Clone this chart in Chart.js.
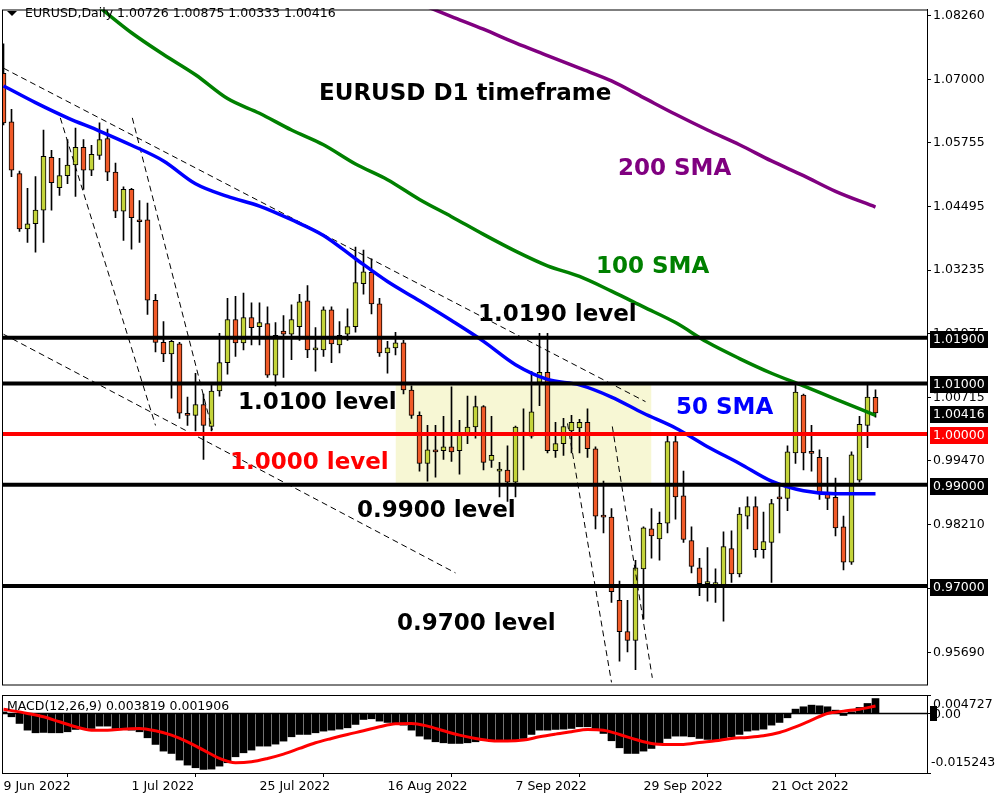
<!DOCTYPE html>
<html><head><meta charset="utf-8">
<script src="https://cdn.jsdelivr.net/npm/chart.js@4.4.1/dist/chart.umd.min.js"></script>
<style>
html,body{margin:0;padding:0;background:#fff;width:1000px;height:800px;overflow:hidden;}
#main{position:absolute;left:0;top:0;width:1000px;height:694px;}
#macd{position:absolute;left:0;top:694px;width:1000px;height:106px;}
</style></head><body>
<canvas id="main" width="1000" height="694"></canvas>
<canvas id="macd" width="1000" height="106"></canvas>
<script>
// ---------------- DATA ----------------
const symbolTitle = 'EURUSD,Daily';
const ohlcTitle = '1.00726 1.00875 1.00333 1.00416';
const macdTitle = 'MACD(12,26,9) 0.003819 0.001906';

const dateTickIdx = [0, 16, 32, 48, 64, 80, 96];
const dateTickLabels = ['9 Jun 2022', '1 Jul 2022', '25 Jul 2022', '16 Aug 2022', '7 Sep 2022', '29 Sep 2022', '21 Oct 2022'];
const priceTicks = [1.0826, 1.07, 1.05755, 1.04495, 1.03235, 1.01975, 1.00715, 0.9947, 0.9821, 0.9695, 0.9569];

const openP = [1.0712,1.0616,1.0514,1.0405,1.0415,1.0442,1.0546,1.0486,1.0510,1.0531,
1.0566,1.0521,1.0550,1.0583,1.0517,1.0440,1.0483,1.0423,1.0423,1.0264,
1.0181,1.0158,1.0178,1.0041,1.0037,1.0058,1.0015,1.0085,1.0141,1.0226,
1.0180,1.0230,1.0212,1.0218,1.0116,1.0203,1.0197,1.0212,1.0263,1.0166,
1.0166,1.0245,1.0176,1.0197,1.0212,1.0297,1.0319,1.0257,1.0160,1.0170,
1.0180,1.0087,1.0037,0.9942,0.9967,0.9967,0.9975,0.9967,0.9998,1.0014,
1.0054,0.9948,0.9927,0.9929,0.9905,1.0000,0.9996,1.0102,1.0122,0.9967,
0.9981,1.0006,1.0012,1.0023,0.9971,0.9838,0.9836,0.9672,0.9610,0.9593,
0.9734,0.9813,0.9793,0.9824,0.9985,0.9878,0.9790,0.9736,0.9705,0.9703,
0.9703,0.9774,0.9724,0.9838,0.9857,0.9772,0.9786,0.9873,0.9873,0.9963,
1.0077,0.9963,0.9954,0.9882,0.9875,0.9817,0.9747,0.9909,1.0017,1.00726];
const highP = [1.0770,1.0641,1.0519,1.0485,1.0508,1.0600,1.0560,1.0544,1.0581,1.0604,
1.0581,1.0570,1.0614,1.0602,1.0535,1.0488,1.0485,1.0461,1.0456,1.0276,
1.0222,1.0185,1.0181,1.0073,1.0120,1.0079,1.0097,1.0199,1.0268,1.0272,
1.0278,1.0259,1.0259,1.0251,1.0220,1.0234,1.0255,1.0276,1.0293,1.0210,
1.0251,1.0251,1.0222,1.0247,1.0369,1.0363,1.0346,1.0268,1.0183,1.0201,
1.0185,1.0095,1.0044,1.0017,1.0017,1.0035,1.0093,1.0027,1.0075,1.0075,
1.0056,1.0035,0.9944,0.9977,1.0016,1.0050,1.0124,1.0199,1.0199,1.0023,
1.0031,1.0037,1.0029,1.0050,0.9975,0.9907,0.9853,0.9710,0.9672,0.9751,
0.9817,0.9853,0.9846,0.9998,0.9998,0.9927,0.9817,0.9755,0.9776,0.9734,
0.9807,0.9809,0.9855,0.9876,0.9876,0.9846,0.9871,0.9903,0.9977,1.0098,
1.0079,1.0017,0.9969,0.9954,0.9913,0.9838,0.9965,1.0035,1.0098,1.00875];
const lowP = [1.0610,1.0508,1.0400,1.0378,1.0359,1.0378,1.0442,1.0471,1.0494,1.0469,
1.0483,1.0510,1.0542,1.0500,1.0427,1.0382,1.0365,1.0378,1.0236,1.0162,
1.0143,1.0071,1.0031,1.0017,1.0006,0.9950,1.0006,1.0075,1.0118,1.0153,
1.0166,1.0176,1.0176,1.0112,1.0095,1.0112,1.0147,1.0185,1.0151,1.0124,
1.0153,1.0141,1.0160,1.0185,1.0201,1.0276,1.0237,1.0153,1.0120,1.0156,
1.0079,1.0031,0.9927,0.9907,0.9915,0.9950,0.9946,0.9921,0.9981,0.9992,
0.9929,0.9934,0.9876,0.9867,0.9876,0.9929,0.9992,1.0056,0.9963,0.9954,
0.9958,0.9963,0.9963,0.9954,0.9813,0.9805,0.9668,0.9552,0.9570,0.9535,
0.9635,0.9755,0.9751,0.9805,0.9832,0.9786,0.9726,0.9681,0.9670,0.9668,
0.9631,0.9707,0.9718,0.9813,0.9757,0.9755,0.9707,0.9805,0.9849,0.9942,
0.9929,0.9927,0.9871,0.9851,0.9799,0.9732,0.9743,0.9905,0.9973,1.00333];
const closeP = [1.0614,1.0521,1.0405,1.0415,1.0442,1.0548,1.0496,1.0510,1.0531,1.0566,
1.0521,1.0552,1.0581,1.0517,1.0440,1.0483,1.0427,1.0419,1.0264,1.0181,
1.0158,1.0183,1.0041,1.0037,1.0058,1.0017,1.0085,1.0141,1.0226,1.0180,
1.0230,1.0210,1.0220,1.0116,1.0195,1.0197,1.0226,1.0261,1.0166,1.0168,
1.0245,1.0178,1.0195,1.0212,1.0299,1.0320,1.0257,1.0160,1.0170,1.0180,
1.0087,1.0037,0.9942,0.9969,0.9965,0.9975,0.9965,0.9998,1.0014,1.0054,
0.9944,0.9958,0.9929,0.9905,1.0014,1.0004,1.0044,1.0122,0.9967,0.9981,
1.0015,1.0023,1.0023,0.9971,0.9838,0.9836,0.9689,0.9610,0.9593,0.9736,
0.9815,0.9799,0.9824,0.9985,0.9876,0.9792,0.9739,0.9705,0.9708,0.9704,
0.9778,0.9724,0.9842,0.9857,0.9772,0.9788,0.9863,0.9872,0.9965,1.0083,
0.9963,0.9962,0.9882,0.9873,0.9815,0.9747,0.9959,1.0019,1.0073,1.00416];

// moving averages read at bar indices: [barIndex, price]
const sma50 = [[0,1.0687],[4,1.0654],[8,1.0624],[12,1.0598],[16,1.0570],[20,1.0539],[24,1.0494],[28,1.0469],[32,1.0450],[36,1.0423],[40,1.0392],[44,1.0346],[48,1.0301],[52,1.0263],[56,1.0224],[60,1.0183],[64,1.0137],[68,1.0108],[72,1.0097],[76,1.0073],[80,1.0041],[84,1.0012],[88,0.9975],[92,0.9942],[96,0.9907],[100,0.9888],[104,0.9882],[109,0.9882]];
const sma100 = [[6,1.0915],[12,1.0842],[16,1.0792],[20,1.0749],[24,1.0709],[28,1.0662],[32,1.0633],[36,1.0600],[40,1.0571],[44,1.0533],[48,1.0502],[52,1.0463],[56,1.0429],[60,1.0394],[64,1.0361],[68,1.0332],[72,1.0311],[76,1.0282],[80,1.0251],[84,1.0220],[88,1.0181],[92,1.0149],[96,1.0120],[100,1.0095],[104,1.0069],[109,1.0037]];
const sma200 = [[48,1.0875],[56,1.0824],[60,1.0799],[64,1.0772],[68,1.0747],[72,1.0722],[76,1.0697],[80,1.0664],[84,1.0631],[88,1.0600],[92,1.0571],[96,1.0539],[100,1.0510],[104,1.0479],[109,1.0448]];

// dashed trend lines: [[barIndex, price], [barIndex, price]]
const trendLines = [
  [[0,1.0722],[80.25,1.0064]],
  [[0,1.0197],[56.5,0.9726]],
  [[7.1,1.0624],[19,1.0017]],
  [[16.1,1.0624],[26.1,1.0008]],
  [[70.5,1.0021],[76,0.9510]],
  [[76.1,1.0015],[81.1,0.9519]]
];
const levelPrices = [1.019, 1.01, 1.0, 0.99, 0.97];
const zoneBars = [49, 81];
const zonePrices = [0.99, 1.01];

const macdHist = [0.0004,-0.00085,-0.00256,-0.00427,-0.00495,-0.00486,-0.00495,-0.00495,-0.00469,-0.00409,
-0.00367,-0.00384,-0.00324,-0.00324,-0.00384,-0.00401,-0.00427,-0.00469,-0.00623,-0.00793,
-0.00964,-0.01024,-0.01194,-0.01322,-0.01390,-0.01433,-0.01425,-0.01348,-0.01262,-0.01109,
-0.01007,-0.00938,-0.00836,-0.00836,-0.00785,-0.00708,-0.00597,-0.00537,-0.00537,-0.00495,
-0.00452,-0.00427,-0.00401,-0.00367,-0.00281,-0.00154,-0.00136,-0.00196,-0.00230,-0.00256,
-0.00299,-0.00427,-0.00580,-0.00657,-0.00725,-0.00751,-0.00768,-0.00768,-0.00751,-0.00725,
-0.00682,-0.00682,-0.00682,-0.00682,-0.00682,-0.00640,-0.00537,-0.00427,-0.00427,-0.00409,
-0.00401,-0.00384,-0.00341,-0.00341,-0.00409,-0.00512,-0.00699,-0.00879,-0.01024,-0.01024,
-0.00964,-0.00896,-0.00768,-0.00640,-0.00580,-0.00580,-0.00597,-0.00640,-0.00665,-0.00682,
-0.00665,-0.00597,-0.00537,-0.00452,-0.00427,-0.00401,-0.00299,-0.00230,-0.00111,0.00111,
0.00171,0.00213,0.00196,0.00171,0.00085,-0.00051,0.00043,0.00154,0.00256,0.003819];
const macdSignal = [[0,0.00108],[3,0],[5,-0.00085],[7,-0.00213],[9,-0.00341],[11,-0.00427],[13,-0.00427],[15,-0.00401],[17,-0.00384],[19,-0.00444],[21,-0.00555],[23,-0.00725],[25,-0.00938],[27,-0.01152],[29,-0.01262],[31,-0.01237],[33,-0.01152],[35,-0.01041],[37,-0.00896],[39,-0.00751],[41,-0.00640],[43,-0.00537],[45,-0.00444],[47,-0.00341],[49,-0.00264],[51,-0.00256],[53,-0.00324],[55,-0.00444],[57,-0.00555],[59,-0.00640],[61,-0.00699],[63,-0.00708],[65,-0.00682],[67,-0.00597],[69,-0.00529],[71,-0.00469],[73,-0.00409],[75,-0.00427],[77,-0.00537],[79,-0.00665],[81,-0.00768],[83,-0.00793],[85,-0.00793],[87,-0.00742],[89,-0.00699],[91,-0.00640],[93,-0.00614],[95,-0.00572],[97,-0.00486],[99,-0.00341],[101,-0.00171],[103,0],[105,0.0006],[107,0.0011],[109,0.001906]];
const macdRange = [-0.015243, 0.004727];

// ---------------- STYLE / LAYOUT ----------------
const FONT = '"DejaVu Sans", sans-serif';
const BULL = '#c4d43a', BEAR = '#f05a28';
const XMIN = -0.1875, XMAX = XMIN + 925 / 8;
const YMIN = 0.950579, YMAX = 1.083784;

const idx = openP.map((_, i) => i);
const pts = arr => arr.map(([x, y]) => ({x, y}));

const frame = {
  id: 'frame',
  afterDraw(chart) {
    const {ctx, chartArea: a} = chart;
    ctx.save();
    ctx.strokeStyle = '#000'; ctx.lineWidth = 1;
    ctx.strokeRect(a.left + 0.5, a.top + 0.5, a.right - a.left, a.bottom - a.top);
    ctx.restore();
  }
};

const mainDecor = {
  id: 'mainDecor',
  afterDatasetsDraw(chart) {
    const {ctx} = chart;
    ctx.save();
    ctx.font = 'bold 23px ' + FONT;
    ctx.textBaseline = 'alphabetic';
    const notes = [
      ['EURUSD D1 timeframe', 319, 100, '#000'],
      ['200 SMA', 618, 175, '#800080'],
      ['100 SMA', 596, 273, '#008000'],
      ['1.0190 level', 478, 321, '#000'],
      ['1.0100 level', 238, 409, '#000'],
      ['1.0000 level', 230, 469, '#ff0000'],
      ['0.9900 level', 357, 517, '#000'],
      ['0.9700 level', 397, 630, '#000'],
      ['50 SMA', 676, 414, '#0000ff']
    ];
    notes.forEach(([t, x, y, c]) => { ctx.fillStyle = c; ctx.fillText(t, x, y); });
    // header
    ctx.fillStyle = '#000';
    ctx.beginPath(); ctx.moveTo(7, 11); ctx.lineTo(17, 11); ctx.lineTo(12, 16); ctx.closePath(); ctx.fill();
    ctx.font = '12.5px ' + FONT;
    ctx.textBaseline = 'middle';
    ctx.fillText(symbolTitle, 25, 14);
    ctx.fillText(ohlcTitle, 117, 14);
    ctx.restore();
  },
  afterDraw(chart) {
    const {ctx, scales: {y}} = chart;
    ctx.save();
    ctx.font = '12.5px ' + FONT;
    ctx.textBaseline = 'middle';
    const boxes = levelPrices.map(v => [v, v === 1.0 ? '#ff0000' : '#000']);
    boxes.push([closeP[closeP.length - 1], '#000']);
    boxes.forEach(([v, c]) => {
      const py = Math.round(y.getPixelForValue(v)) + 1;
      ctx.fillStyle = c;
      ctx.fillRect(930, py - 8, 58, 17);
      ctx.fillStyle = '#fff';
      ctx.fillText(v.toFixed(5), 933, py + 0.5);
    });
    ctx.restore();
  }
};

const levelSets = levelPrices.map(v => ({
  type: 'line', data: [{x: XMIN - 1, y: v}, {x: XMAX + 1, y: v}],
  borderColor: v === 1.0 ? '#ff0000' : '#000', borderWidth: 4, pointRadius: 0, order: 10
}));
const trendSets = trendLines.map(l => ({
  type: 'line', data: pts(l), borderColor: '#000', borderWidth: 1, borderDash: [6, 4],
  pointRadius: 0, order: 30
}));
const smaSet = (arr, color) => ({
  type: 'line', data: pts(arr), borderColor: color, borderWidth: 3.5, pointRadius: 0,
  cubicInterpolationMode: 'monotone', order: 20
});

new Chart(document.getElementById('main'), {
  type: 'bar',
  data: {
    datasets: [
      {type: 'line', data: [{x: zoneBars[0], y: zonePrices[1]}, {x: zoneBars[1], y: zonePrices[1]}],
       fill: {value: zonePrices[0]}, backgroundColor: '#f7f7d4', borderWidth: 0, pointRadius: 0, order: 100},
      {type: 'bar', data: idx.map(i => ({x: i, y: [lowP[i], highP[i]]})), backgroundColor: '#000',
       borderWidth: 0, barThickness: 1, grouped: false, order: 90},
      {type: 'bar', data: idx.map(i => ({x: i, y: [openP[i], closeP[i]]})),
       backgroundColor: idx.map(i => closeP[i] >= openP[i] ? BULL : BEAR),
       borderColor: '#000', borderWidth: 1, borderSkipped: false, barThickness: 5, minBarLength: 2,
       grouped: false, order: 80},
      ...trendSets,
      smaSet(sma200, '#800080'),
      smaSet(sma100, '#008000'),
      smaSet(sma50, '#0000ff'),
      ...levelSets
    ]
  },
  options: {
    responsive: false, animation: false, devicePixelRatio: 1,
    layout: {padding: {left: 2, top: 2, bottom: 2, right: 0}},
    plugins: {legend: {display: false}, tooltip: {enabled: false}},
    scales: {
      x: {type: 'linear', min: XMIN, max: XMAX, display: false, offset: false},
      y: {
        position: 'right', min: YMIN, max: YMAX,
        afterFit: s => { s.width = 73; },
        afterBuildTicks: s => { s.ticks = priceTicks.map(v => ({value: v})); },
        ticks: {callback: v => Number(v).toFixed(5), color: '#000', font: {family: FONT, size: 12.5},
                padding: 2, autoSkip: false},
        grid: {display: true, drawOnChartArea: false, drawTicks: true, tickLength: 4, color: '#000'},
        border: {display: true, color: '#000'}
      }
    }
  },
  plugins: [frame, mainDecor]
});

const macdDecor = {
  id: 'macdDecor',
  afterDraw(chart) {
    const {ctx, scales: {y}} = chart;
    ctx.save();
    ctx.font = '12.5px ' + FONT;
    ctx.textBaseline = 'middle';
    ctx.fillStyle = '#000';
    ctx.fillText(macdTitle, 7, 13);
    ctx.fillRect(930, 12, 7, 15);
    ctx.fillText(macdRange[1].toFixed(6), 933, y.getPixelForValue(macdRange[1]) + 10);
    ctx.fillText('0.00', 933, y.getPixelForValue(0) + 1);
    ctx.fillText(macdRange[0].toFixed(6), 931, y.getPixelForValue(macdRange[0]) - 10);
    ctx.restore();
  }
};

new Chart(document.getElementById('macd'), {
  type: 'bar',
  data: {
    datasets: [
      {type: 'bar', data: idx.map(i => ({x: i, y: macdHist[i]})), backgroundColor: '#000',
       borderWidth: 0, barThickness: 7, grouped: false, order: 30},
      {type: 'line', data: [{x: XMIN, y: 0}, {x: XMAX, y: 0}], borderColor: '#000', borderWidth: 1.5,
       pointRadius: 0, order: 20},
      {type: 'line', data: pts(macdSignal), borderColor: '#ff0000', borderWidth: 3, pointRadius: 0,
       cubicInterpolationMode: 'monotone', order: 10}
    ]
  },
  options: {
    responsive: false, animation: false, devicePixelRatio: 1,
    layout: {padding: {left: 2, top: 1, bottom: 0, right: 0}},
    plugins: {legend: {display: false}, tooltip: {enabled: false}},
    scales: {
      x: {
        type: 'linear', min: XMIN, max: XMAX, offset: false, position: 'bottom',
        afterFit: s => { s.height = 27; },
        afterBuildTicks: s => { s.ticks = dateTickIdx.map(v => ({value: v})); },
        ticks: {callback: v => dateTickLabels[dateTickIdx.indexOf(v)] || '', align: 'start', maxRotation: 0,
                autoSkip: false, color: '#000', font: {family: FONT, size: 12.5}, padding: 2},
        grid: {display: true, drawOnChartArea: false, drawTicks: true, tickLength: 4, color: '#000'},
        border: {display: true, color: '#000'}
      },
      y: {
        position: 'right', min: macdRange[0], max: macdRange[1],
        afterFit: s => { s.width = 73; },
        afterBuildTicks: s => { s.ticks = [macdRange[1], 0, macdRange[0]].map(v => ({value: v})); },
        ticks: {display: false},
        grid: {display: true, drawOnChartArea: false, drawTicks: true, tickLength: 4, color: '#000'},
        border: {display: true, color: '#000'}
      }
    }
  },
  plugins: [frame, macdDecor]
});
</script></body></html>
